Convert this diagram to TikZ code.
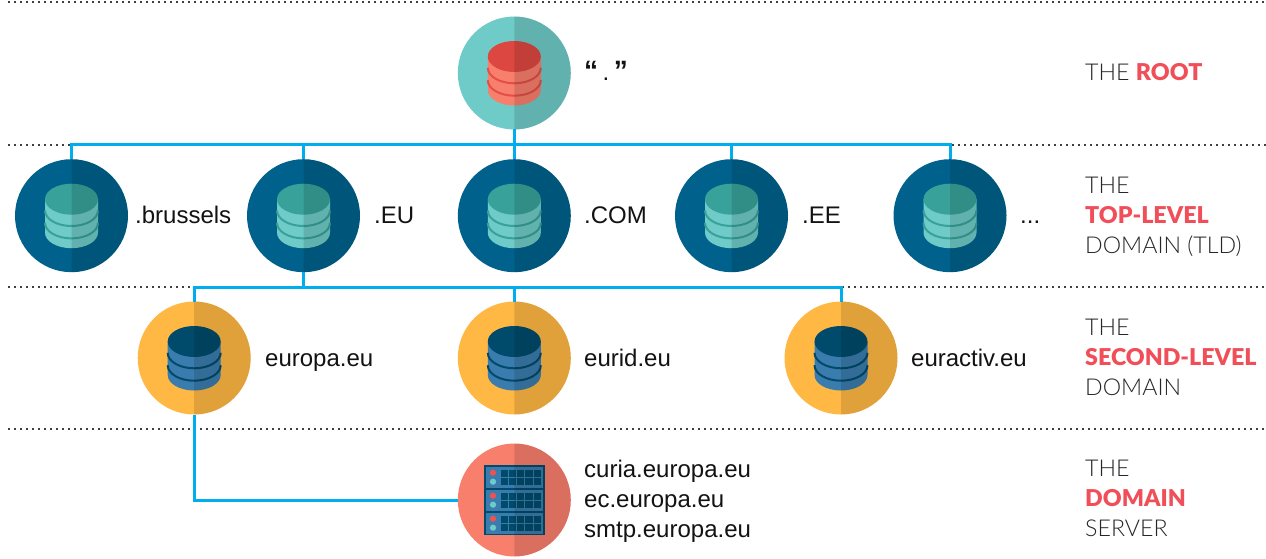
\documentclass[tikz,border=0pt]{standalone}
\usepackage{fontspec}
\usepackage{xcolor}
\setmainfont{Liberation Sans}
\newfontfamily\lightfont{Lato Light}[BoldFont=Lato Black]
\definecolor{linkblue}{HTML}{00AEEF}
\definecolor{tealc}{HTML}{6FCBC7}
\definecolor{tealdark}{HTML}{38A29A}
\definecolor{navy}{HTML}{00628C}
\definecolor{inkblue}{HTML}{004B6B}
\definecolor{midblue}{HTML}{3A7CAD}
\definecolor{amber}{HTML}{FFB844}
\definecolor{salmon}{HTML}{F97F6D}
\definecolor{brick}{HTML}{DD4742}
\definecolor{redlabel}{HTML}{F04E58}
\definecolor{ledred}{HTML}{EF5350}
\tikzset{
  hub/.style={circle,minimum size=113pt,inner sep=0pt,outer sep=0pt},
  link/.style={draw=linkblue,line width=3pt},
  layerline/.style={draw=black!75,line width=1.5pt,dash pattern=on 1.8pt off 4.2pt},
  domainlabel/.style={anchor=base west,inner sep=0pt,align=left,text=black!93,font=\fontsize{24}{30}\selectfont},
  layerlabel/.style={anchor=west,inner sep=0pt,align=left,text=black!85,font=\fontsize{23.2}{30}\selectfont\lightfont},
}
% db icon: x, y, body, top, band
\newcommand{\dbicon}[5]{
\begin{scope}[shift={(#1,#2)}]
\fill [#3] (-26.5,-16.5) -- (-26.5,17) arc [x radius=26.5,y radius=15.5,start angle=180,end angle=0] -- (26.5,-16.5) -- cycle ;
\draw [#5,line width=2pt] (-26.5,-5.2) arc [x radius=26.5,y radius=15.5,start angle=180,end angle=0] ;
\draw [#5,line width=2pt] (-26.5,7.2) arc [x radius=26.5,y radius=15.5,start angle=180,end angle=0] ;
\fill [#4] (0,-16.5) ellipse [x radius=26.5,y radius=15.5] ;
\end{scope}
}
% darker right half of a hub
\newcommand{\rightshade}[1]{
\fill [black,fill opacity=0.12] (#1.north) arc [radius=56.5,start angle=-90,end angle=90] -- cycle ;
}
% one drawer of the rack: y of its top
\newcommand{\rackrow}[1]{
\begin{scope}[shift={(484,#1)}]
\fill [midblue] (2,0) rectangle (59,21) ;
\fill [inkblue] (16.7,3.2) rectangle (57,18.2) ;
\draw [midblue,line width=0.8pt] (24.7,3.2) -- (24.7,18.2)(32.8,3.2) -- (32.8,18.2)(40.8,3.2) -- (40.8,18.2)(48.9,3.2) -- (48.9,18.2)(16.7,10.7) -- (57,10.7) ;
\fill [ledred] (9,5.7) circle [radius=3.1] ;
\fill [tealc] (9,14.7) circle [radius=3.1] ;
\end{scope}
}

\begin{document}
\begin{tikzpicture}[x=1pt,y=1pt,yscale=-1,xscale=1]
\useasboundingbox (0,0) rectangle (1266,559);

%Dotted layer lines
\draw [layerline] (8,2) -- (1266,2) ;
\draw [layerline] (8,145) -- (70,145) ;
\draw [layerline] (952,145) -- (1266,145) ;
\draw [layerline] (8,287) -- (193,287) ;
\draw [layerline] (842,287) -- (1266,287) ;
\draw [layerline] (8,429) -- (1266,429) ;

%Hubs
\node [hub,fill=tealc] (root) at (514.3,73) {} ;
\node [hub,fill=navy] (brussels) at (71.5,215.7) {} ;
\node [hub,fill=navy] (eu) at (303.5,215.7) {} ;
\node [hub,fill=navy] (com) at (514.3,215.7) {} ;
\node [hub,fill=navy] (ee) at (731.5,215.7) {} ;
\node [hub,fill=navy] (more) at (950,215.7) {} ;
\node [hub,fill=amber] (europa) at (194.2,358) {} ;
\node [hub,fill=amber] (eurid) at (514.3,358) {} ;
\node [hub,fill=amber] (euractiv) at (841,358) {} ;
\node [hub,fill=salmon] (server) at (514.3,500) {} ;

%Connectors
\coordinate (topbus) at (514.3,145) ;
\coordinate (midbus) at (514.3,287) ;
\draw [link] (brussels) |- (topbus) -| (more) ;
\draw [link] (root) -- (com) ;
\draw [link] (eu) -- (eu |- topbus) ;
\draw [link] (ee) -- (ee |- topbus) ;
\draw [link] (eu) -- (eu |- midbus) ;
\draw [link] (europa) |- (midbus) -| (euractiv) ;
\draw [link] (eurid) -- (midbus) ;
\draw [link] (europa) |- (server) ;

%Icons
\dbicon{514.3}{73}{salmon}{brick}{brick!85!salmon}
\dbicon{71.5}{215.7}{tealc}{tealdark}{tealdark}
\dbicon{303.5}{215.7}{tealc}{tealdark}{tealdark}
\dbicon{514.3}{215.7}{tealc}{tealdark}{tealdark}
\dbicon{731.5}{215.7}{tealc}{tealdark}{tealdark}
\dbicon{950}{215.7}{tealc}{tealdark}{tealdark}
\dbicon{194.2}{358}{midblue}{inkblue}{inkblue}
\dbicon{514.3}{358}{midblue}{inkblue}{inkblue}
\dbicon{841}{358}{midblue}{inkblue}{inkblue}

%Rack
\fill [inkblue] (484,465) rectangle (545,535) ;
\rackrow{467}
\rackrow{490}
\rackrow{513}

%Right halves
\rightshade{root}
\rightshade{brussels}
\rightshade{eu}
\rightshade{com}
\rightshade{ee}
\rightshade{more}
\rightshade{europa}
\rightshade{eurid}
\rightshade{euractiv}
\rightshade{server}

% Text Node
\node [domainlabel] (lblroot) at (584,81) {{\fontsize{28}{30}\selectfont\textbf{“}}\hspace{4.5pt}.\hspace{4.5pt}{\fontsize{28}{30}\selectfont\textbf{”}}};
% Text Node
\node [domainlabel] (lblbrussels) at (135,223) {.brussels};
% Text Node
\node [domainlabel] (lbleu) at (374,223) {.EU};
% Text Node
\node [domainlabel] (lblcom) at (584,223) {.COM};
% Text Node
\node [domainlabel] (lblee) at (802,223) {.EE};
% Text Node
\node [domainlabel] (lblmore) at (1020,223) {...};
% Text Node
\node [domainlabel] (lbleuropa) at (265,366) {europa.eu};
% Text Node
\node [domainlabel] (lbleurid) at (584,366) {eurid.eu};
% Text Node
\node [domainlabel] (lbleuractiv) at (911,366) {euractiv.eu};
% Text Node
\node [domainlabel] (lblserver) at (584,537) {curia.europa.eu\\ec.europa.eu\\smtp.europa.eu};
% Text Node
\node [layerlabel] (layerroot) at (1085,72) {THE \textcolor{redlabel}{\textbf{ROOT}}};
% Text Node
\node [layerlabel] (layertld) at (1085,217) {THE\\\textcolor{redlabel}{\textbf{TOP-LEVEL}}\\DOMAIN (TLD)};
% Text Node
\node [layerlabel] (layersld) at (1085,357) {THE\\\textcolor{redlabel}{\textbf{SECOND-LEVEL}}\\DOMAIN};
% Text Node
\node [layerlabel] (layerserver) at (1085,498) {THE\\\textcolor{redlabel}{\textbf{DOMAIN}}\\SERVER};

\end{tikzpicture}
\end{document}
